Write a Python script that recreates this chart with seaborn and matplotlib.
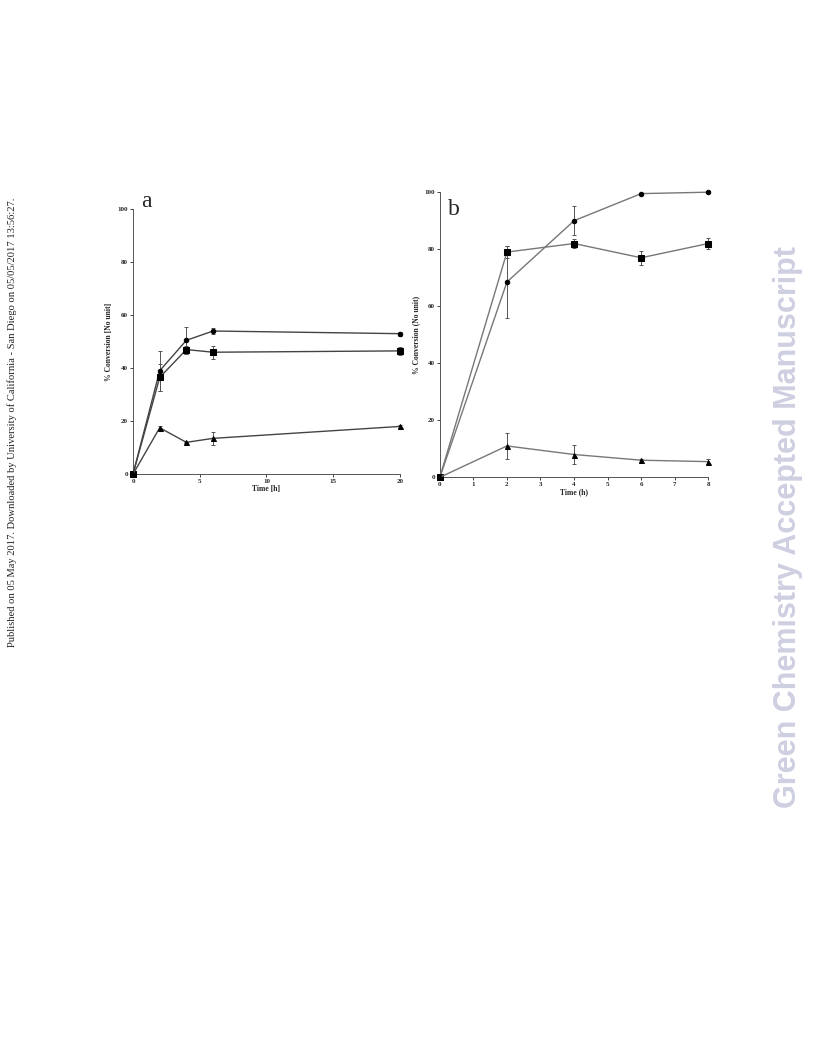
import pandas as pd
import matplotlib
matplotlib.use("Agg")
import matplotlib.pyplot as plt
import seaborn as sns

# panel a data
time_a = [0, 2, 4, 6, 20]
circ_a = [0, 39, 50.5, 54, 53]
circ_a_err = [0, 7.5, 5, 1, 0.7]
sq_a = [0, 36.5, 47, 46, 46.5]
sq_a_err = [0, 5, 1.5, 2.5, 1.5]
tri_a = [0, 17.5, 12, 13.5, 18]
tri_a_err = [0, 0.5, 0.3, 2.5, 0.5]

# panel b data
time_b = [0, 2, 4, 6, 8]
circ_b = [0, 68.5, 90, 99.5, 100]
circ_b_err = [0, 12.5, 5, 0.3, 0.3]
sq_b = [0, 79, 82, 77, 82]
sq_b_err = [0, 2, 1.5, 2.5, 2]
tri_b = [0, 11, 8, 6, 5.5]
tri_b_err = [0, 4.5, 3.5, 0.5, 1]

sns.set_theme(style="ticks")
plt.rcParams['font.family'] = ['Liberation Serif', 'DejaVu Serif']


def make_df(t, c, s, tr):
    rows = []
    for name, vals in [("circle", c), ("square", s), ("triangle", tr)]:
        for x, y in zip(t, vals):
            rows.append({"time": x, "conv": y, "series": name})
    return pd.DataFrame(rows)


def draw_panel(ax, t, series, errs, line_col, xticks, xlabel, ylabel, letter, letter_y):
    df = make_df(t, *series)
    markers = {"circle": "o", "square": "s", "triangle": "^"}
    sizes = {"circle": 3.2, "square": 5, "triangle": 3.6}
    for name in ["circle", "square", "triangle"]:
        sub = df[df["series"] == name]
        sns.lineplot(data=sub, x="time", y="conv", ax=ax, color=line_col,
                     lw=1.0, marker=markers[name], markersize=sizes[name],
                     markerfacecolor="black", markeredgecolor="black",
                     clip_on=False, zorder=3)
    for vals, err in zip(series, errs):
        ax.errorbar(t, vals, yerr=err, fmt="none", ecolor="#555555",
                    elinewidth=0.7, capsize=1.5, capthick=0.7, clip_on=False)
    ax.set_xlim(xticks[0], xticks[-1])
    ax.set_ylim(0, 100)
    ax.set_xticks(xticks)
    ax.set_yticks(range(0, 101, 20))
    ax.tick_params(labelsize=5, length=2, width=0.6, pad=1.5)
    for lab in ax.get_xticklabels() + ax.get_yticklabels():
        lab.set_fontweight("bold")
    ax.set_xlabel(xlabel, fontsize=5.5, fontweight="bold", labelpad=1)
    ax.set_ylabel(ylabel, fontsize=5.5, fontweight="bold", labelpad=3)
    sns.despine(ax=ax)
    for sp in ["left", "bottom"]:
        ax.spines[sp].set_linewidth(0.7)
        ax.spines[sp].set_color("#555555")
    ax.text(0.03, letter_y, letter, transform=ax.transAxes, fontsize=17,
            va="top", ha="left")


fig = plt.figure(figsize=(8.16, 10.56), dpi=100)
ax_a = fig.add_axes([0.163, 0.551, 0.327, 0.251])
ax_b = fig.add_axes([0.539, 0.548, 0.329, 0.270])

draw_panel(ax_a, time_a, [circ_a, sq_a, tri_a], [circ_a_err, sq_a_err, tri_a_err],
           "#444444", [0, 5, 10, 15, 20], "Time [h]", "% Conversion [No unit]", "a", 1.07)
draw_panel(ax_b, time_b, [circ_b, sq_b, tri_b], [circ_b_err, sq_b_err, tri_b_err],
           "#777777", list(range(0, 9)), "Time (h)", "% Conversion (No unit)", "b", 0.975)

fig.text(0.015, 0.600,
         "Published on 05 May 2017. Downloaded by University of California - San Diego on 05/05/2017 13:56:27.",
         rotation=90, fontsize=7.6, va="center", ha="center", color="#222222")
fig.text(0.966, 0.501, "Green Chemistry Accepted Manuscript", rotation=90,
         fontsize=22, fontweight="bold", va="center", ha="center",
         color="#cfcfe2", family=["Liberation Sans", "DejaVu Sans"])

fig.savefig("out.png", dpi=100)
